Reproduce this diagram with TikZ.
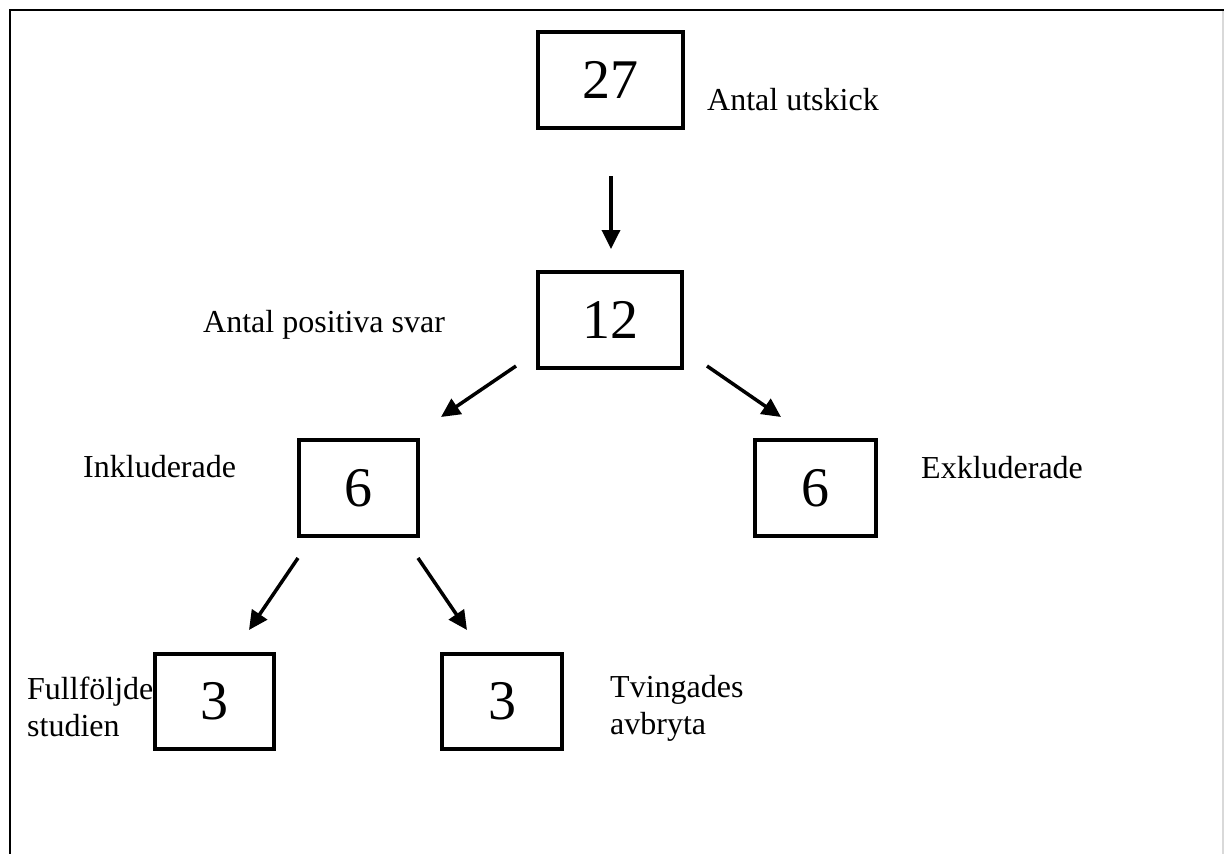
\documentclass[tikz,border=0pt]{standalone}
\usepackage{fontspec}
\setmainfont{Liberation Serif}
\usetikzlibrary{arrows.meta}
\tikzset{
  numbox/.style={draw, line width=4.8pt, inner sep=0pt, minimum width=120pt, minimum height=96pt,
    font=\fontsize{56}{60}\selectfont},
  widebox/.style={numbox, minimum width=145pt},
  lbl/.style={inner sep=0pt, anchor=base west, align=left, font=\fontsize{32}{37}\selectfont},
  flow/.style={line width=3.5pt, -{Triangle[length=19pt,width=18pt]}},
  frame/.style={line width=2.2pt}
}
\begin{document}
\begin{tikzpicture}[x=1pt,y=-1pt]
\useasboundingbox (0,0) rectangle (1224,854);
% outer frame (open at bottom)
\draw[frame] (10,854) -- (10,10) -- (1224,10);
\draw[line width=1.5pt, black!15] (1223,11) -- (1223,854);

% boxes
\node[widebox] (n27) at (610.5,80) {27};
\node[widebox, minimum width=144pt] (n12) at (610,320) {12};
\node[numbox, minimum width=119pt] (inc) at (358.5,488) {6};
\node[numbox, minimum width=121pt] (exc) at (815.5,488) {6};
\node[numbox, minimum width=119pt, minimum height=95pt] (full) at (214.5,701.5) {3};
\node[numbox, minimum height=95pt] (avb) at (502,701.5) {3};

% labels
\node[lbl] (l27) at (707,110) {Antal utskick};
\node[lbl] (l12) at (203,332) {Antal positiva svar};
\node[lbl] (linc) at (83,477) {Inkluderade};
\node[lbl] (lexc) at (921,478) {Exkluderade};
\node[lbl] (lfull) at (27,736) {Fullföljde\\studien};
\node[lbl] (lavb) at (610,734) {Tvingades\\avbryta};

% arrow end points
\coordinate (a1s) at (611,176);  \coordinate (a1e) at (611,249);
\coordinate (a2s) at (516,366);  \coordinate (a2e) at (441,417);
\coordinate (a3s) at (707,366);  \coordinate (a3e) at (781,417);
\coordinate (a4s) at (298,558);  \coordinate (a4e) at (249,630);
\coordinate (a5s) at (418,558);  \coordinate (a5e) at (467,630);

\draw[flow] (a1s) -- (a1e);
\draw[flow] (a2s) -- (a2e);
\draw[flow] (a3s) -- (a3e);
\draw[flow] (a4s) -- (a4e);
\draw[flow] (a5s) -- (a5e);
\end{tikzpicture}
\end{document}
